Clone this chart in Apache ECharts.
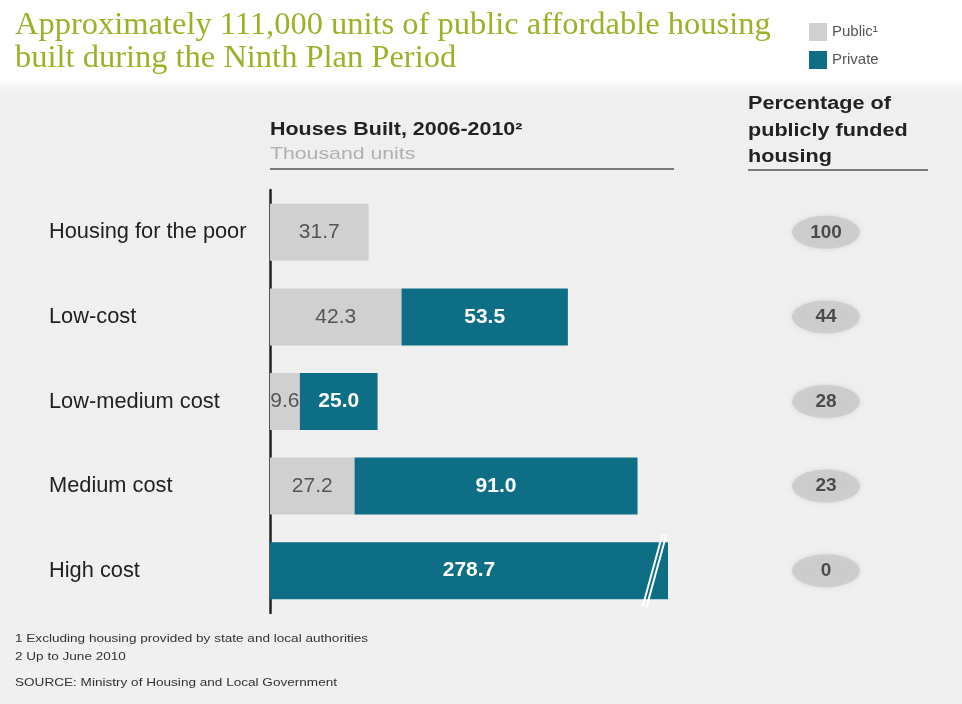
<!DOCTYPE html>
<html>
<head>
<meta charset="utf-8">
<title>Houses built, 2006-2010</title>
<script src="https://cdn.jsdelivr.net/npm/echarts@6/dist/echarts.min.js"></script>
<style>
  html, body { margin: 0; padding: 0; background: #ffffff; }
  #chart { width: 962px; height: 704px; }
</style>
</head>
<body>
<div id="chart"></div>
<script>
// Housing categories, top to bottom
const categories = ['Housing for the poor', 'Low-cost', 'Low-medium cost', 'Medium cost', 'High cost'];
// Houses built, thousand units
const publicUnits = [31.7, 42.3, 9.6, 27.2, null];
const privateUnits = [null, 53.5, 25.0, 91.0, 278.7];
// Share of each category that was publicly funded, %
const publicShare = [100, 44, 28, 23, 0];
// Visible end of the value axis; longer bars are cut with a break mark
const axisCutoff = 128;
const breakAt = 123;

const TEAL = '#0d6e86';
const GREY = '#d0d0d0';
const FONT = '"Liberation Sans", Arial, sans-serif';
const BAR = 57;

const chart = echarts.init(document.getElementById('chart'));

const gridTop = 190, gridHeight = 423;

const option = {
  animation: false,
  textStyle: { fontFamily: FONT },
  legend: {
    orient: 'vertical',
    left: 804, top: 18,
    itemWidth: 18, itemHeight: 18, itemGap: 10,
    icon: 'rect',
    textStyle: { fontSize: 15, color: '#555', fontFamily: FONT },
    data: ['Public¹', 'Private']
  },
  grid: [
    { left: 270, width: 398, top: gridTop, height: gridHeight },
    { left: 760, width: 132, top: gridTop, height: gridHeight }
  ],
  xAxis: [
    { gridIndex: 0, type: 'value', min: 0, max: axisCutoff, show: false },
    { gridIndex: 1, type: 'category', data: ['share'], show: false }
  ],
  yAxis: [
    {
      gridIndex: 0, type: 'category', data: categories, inverse: true,
      axisLine: { show: true, lineStyle: { color: '#222', width: 2.5 } },
      axisTick: { show: false },
      axisLabel: { align: 'left', margin: 221, fontSize: 21.8, color: '#222', fontFamily: FONT }
    },
    { gridIndex: 1, type: 'category', data: categories, inverse: true, show: false }
  ],
  series: [
    {
      name: 'Public¹', type: 'bar', stack: 'built', barWidth: BAR,
      xAxisIndex: 0, yAxisIndex: 0,
      itemStyle: { color: GREY },
      label: { show: true, position: 'inside', fontSize: 21, color: '#555', fontFamily: FONT,
               formatter: p => p.value.toFixed(1) },
      data: publicUnits
    },
    {
      name: 'Private', type: 'bar', stack: 'built', barWidth: BAR,
      xAxisIndex: 0, yAxisIndex: 0, clip: true,
      itemStyle: { color: TEAL },
      label: { show: true, position: 'inside', fontSize: 21, fontWeight: 'bold', color: '#fff', fontFamily: FONT,
               formatter: p => p.value.toFixed(1) },
      data: privateUnits
    },
    {
      name: 'share', type: 'scatter', xAxisIndex: 1, yAxisIndex: 1,
      symbol: 'circle', symbolSize: [68, 33],
      itemStyle: { color: '#c9c9c9', shadowBlur: 5, shadowColor: 'rgba(0,0,0,0.12)' },
      label: { show: true, position: 'inside', fontSize: 19, fontWeight: 'bold', color: '#2a2a2a', fontFamily: FONT,
               formatter: p => String(p.value[2]) },
      data: publicShare.map((v, i) => [0, i, v])
    }
  ],
  graphic: []
};

chart.setOption(option);

// Horizontally widened text block, anchored at its left edge
function wideText(x, y, text, font, fill, sx, lineHeight) {
  return {
    type: 'text', x: x, y: y, scaleX: sx, silent: true,
    style: { text: text, font: font, fill: fill, verticalAlign: 'top', lineHeight: lineHeight }
  };
}

// Decorations: backdrop, titles, header rules and the axis break mark
const [bx0, by] = chart.convertToPixel({ gridIndex: 0 }, [breakAt, categories.length - 1]);
const halfBar = BAR / 2 + 8;
const slant = 10;

const graphics = [
  {
    type: 'rect', z: -10, silent: true,
    shape: { x: 0, y: 78, width: 962, height: 626 },
    style: {
      fill: new echarts.graphic.LinearGradient(0, 0, 0, 1, [
        { offset: 0, color: '#ffffff' },
        { offset: 0.025, color: '#efefef' },
        { offset: 1, color: '#f0f0f0' }
      ])
    }
  },
  wideText(15, 9, 'Approximately 111,000 units of public affordable housing\nbuilt during the Ninth Plan Period',
           '32px "Liberation Serif", serif', '#9cb128', 1.015, 33),
  wideText(270, 121, 'Houses Built, 2006-2010²', 'bold 18px ' + FONT, '#222', 1.19),
  wideText(270, 146, 'Thousand units', '17px ' + FONT, '#b0b0b0', 1.25),
  {
    type: 'line', silent: true, shape: { x1: 270, y1: 169, x2: 674, y2: 169 },
    style: { stroke: '#555', lineWidth: 1.5 }
  },
  wideText(748, 91, 'Percentage of\npublicly funded\nhousing', 'bold 18px ' + FONT, '#222', 1.2, 26.5),
  {
    type: 'line', silent: true, shape: { x1: 748, y1: 170, x2: 928, y2: 170 },
    style: { stroke: '#555', lineWidth: 1.5 }
  },
  wideText(15, 630, '1 Excluding housing provided by state and local authorities\n2 Up to June 2010',
           '11.5px ' + FONT, '#333', 1.18, 18),
  wideText(15, 677, 'SOURCE: Ministry of Housing and Local Government', '11.5px ' + FONT, '#333', 1.18)
];
[0, 4].forEach(dx => {
  graphics.push({
    type: 'line', z: 100, silent: true,
    shape: { x1: bx0 + dx + slant, y1: by - halfBar, x2: bx0 + dx - slant, y2: by + halfBar },
    style: { stroke: '#ffffff', lineWidth: 2 }
  });
});

chart.setOption({ graphic: graphics });
</script>
</body>
</html>
